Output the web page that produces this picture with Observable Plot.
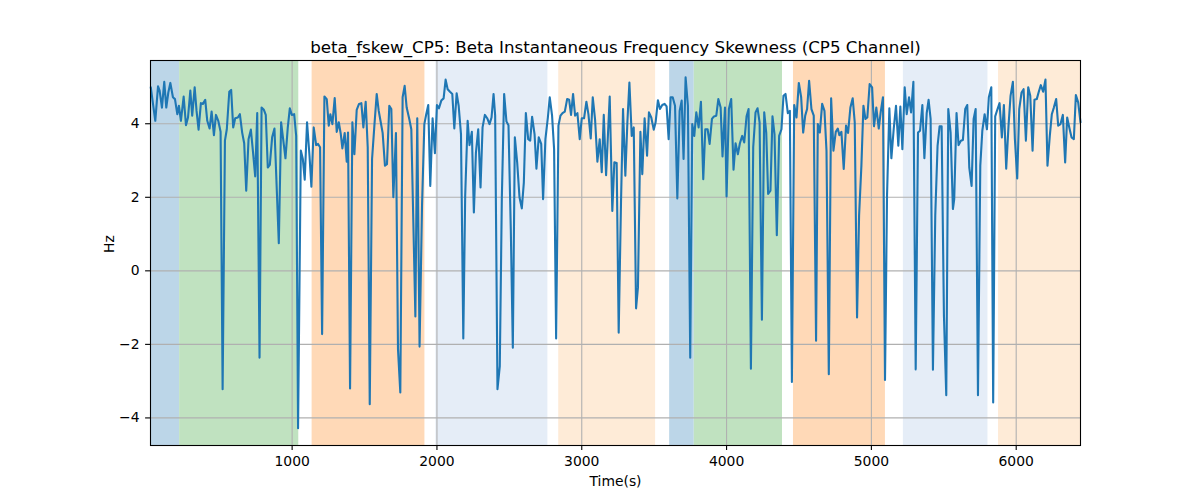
<!DOCTYPE html>
<html>
<head>
<meta charset="utf-8">
<script src="https://cdn.jsdelivr.net/npm/d3@7"></script>
<script src="https://cdn.jsdelivr.net/npm/@observablehq/plot@0.6"></script>
<style>
  html, body { margin: 0; padding: 0; background: #fff; }
  #chart svg { font-family: "DejaVu Sans", sans-serif; }
</style>
</head>
<body>
<div id="chart"></div>
<script>
// ---- data ----
const time = [
  24,55,74,85,101,117,131,145,159,177,191,207,218,232,251,267,281,297,310,327,340,354,370,384,400,414,430,444,460,474,490,506,520,536,549,566,579,593,607,625,639,655,669,683,699,715,729,745,759,775,789,805,
  818,832,846,862,878,908,924,938,954,970,984,998,1014,1028,1041,1060,1074,1087,1103,1120,1133,1149,1166,1179,1193,1207,1223,1239,1253,1264,1278,1294,1308,1322,1336,1347,1363,1377,1386,1400,1416,1430,1446,1462,1478,1492,1508,1522,1536,1552,1568,1584,
  1598,1612,1625,1641,1655,1671,1685,1699,1717,1731,1747,1763,1777,1791,1809,1823,1837,1851,1864,1880,1897,1913,1926,1940,1954,1970,1986,2000,2014,2030,2046,2060,2074,2090,2106,2120,2136,2150,2166,2182,2195,2212,2225,2241,2255,2269,2285,2301,2315,2331,2347,2363,2377,2391,
  2402,2418,2434,2448,2464,2480,2494,2510,2524,2538,2554,2570,2586,2600,2614,2630,2644,2657,2674,2687,2703,2720,2733,2749,2766,2779,2795,2809,2823,2839,2853,2867,2883,2899,2913,2926,2940,2954,2970,2986,3000,3016,3032,3046,3062,3076,3092,3108,3124,3138,3152,3168,
  3193,3211,3225,3241,3255,3271,3285,3301,3315,3329,3345,3359,3375,3388,3405,3418,3434,3451,3464,3480,3497,3510,3526,3540,3556,3572,3586,3600,3614,3628,3644,3660,3676,3690,3703,3717,3733,3749,3763,3777,3791,3807,3823,3839,3853,3869,3883,3899,3913,3929,3943,3959,3972,3989,
  4000,4016,4032,4048,4062,4078,4092,4108,4122,4138,4152,4168,4184,4200,4214,4228,4244,4260,4274,4287,4303,4317,4331,4347,4363,4379,4393,4407,4423,4437,4451,4467,4483,4499,4515,4529,4543,4556,4570,4586,4602,4618,4630,4644,4660,4676,4690,4706,4722,4738,4754,4768,
  4779,4793,4809,4825,4839,4855,4871,4885,4901,4915,4931,4945,4959,4972,4988,5005,5018,5034,5051,5064,5080,5094,5108,5124,5138,5154,5170,5186,5200,5214,5230,5244,5260,5274,5290,5306,5322,5336,5352,5366,5382,5395,5409,5425,5441,5457,5471,5485,5501,5517,5531,5547,5563,
  5572,5588,5602,5618,5632,5648,5662,5676,5692,5706,5720,5736,5752,5766,5782,5798,5811,5828,5841,5855,5871,5885,5901,5915,5931,5947,5961,5977,5991,6007,6021,6037,6051,6067,6083,6097,6113,6126,6142,6156,6170,6186,6202,6216,6232,6246,6260,6276,6290,6306,6322,6338,6352,6368,6382,6398,6412,6428,6444
];
const skew = [
  4.99,4.08,5.02,4.90,4.44,5.14,4.44,4.85,5.11,4.72,4.67,4.26,4.49,4.08,4.74,3.96,4.17,4.90,4.22,4.99,4.35,3.84,4.56,4.54,4.65,4.08,3.87,4.33,3.69,4.24,4.08,3.78,-3.22,3.54,3.85,4.87,4.92,3.90,4.15,4.17,4.26,3.76,3.47,2.18,3.58,3.84,3.27,2.57,4.29,-2.36,4.44,4.38,
  4.24,2.81,2.88,3.63,3.87,0.75,4.04,3.58,3.06,3.90,4.42,4.24,4.26,3.67,-4.28,3.27,3.04,2.48,4.04,3.13,2.29,3.90,3.42,3.45,3.36,-1.72,4.74,4.67,3.95,4.26,3.99,4.70,3.78,4.04,3.72,3.33,3.75,2.97,3.76,-3.20,4.04,3.17,4.38,4.54,4.56,3.90,4.60,3.36,-3.63,3.04,3.95,4.81,
  4.35,4.04,3.75,2.86,2.90,4.49,4.40,2.00,3.75,-2.13,-3.31,4.72,5.03,4.44,4.13,3.85,1.32,-1.24,4.15,-2.06,1.77,3.99,4.26,4.51,2.31,4.15,3.20,4.51,4.42,4.63,4.69,5.20,4.94,4.87,4.81,3.87,4.83,4.49,3.72,-1.84,2.04,4.08,3.42,3.78,1.59,3.20,3.85,2.27,3.90,4.24,4.15,3.99,4.17,4.81,
  4.22,-3.22,-2.59,1.95,4.81,4.06,3.96,1.13,-2.09,3.63,2.95,2.00,1.70,2.40,4.29,3.58,3.54,4.19,3.72,2.78,3.63,3.45,1.95,3.58,4.17,4.72,4.22,3.31,-1.84,3.95,4.22,4.29,4.33,4.67,4.65,4.24,4.81,4.22,4.29,3.58,4.15,4.15,4.60,4.26,3.60,4.72,4.11,2.97,3.58,2.68,4.24,2.60,
  4.74,1.63,2.95,2.93,-1.68,1.86,4.40,2.59,4.04,5.12,3.67,3.90,-1.02,-0.45,3.78,2.63,4.15,3.13,4.31,4.17,3.84,4.04,4.64,4.40,4.51,4.54,4.47,3.58,4.72,4.72,4.49,1.97,4.35,4.63,3.04,5.26,4.49,-2.36,3.99,3.67,4.31,3.90,4.60,2.49,3.85,3.85,3.45,4.13,4.20,4.22,4.67,4.44,3.11,4.44,
  2.02,4.40,4.67,2.75,3.47,3.17,3.47,3.67,3.49,4.20,4.40,-2.66,3.36,4.31,4.42,4.04,-1.33,4.31,3.75,2.09,2.18,4.20,3.72,0.97,3.67,3.85,4.76,4.81,4.29,4.35,-3.02,4.51,4.17,5.11,4.72,3.76,4.22,4.40,5.17,4.40,4.22,-1.90,3.99,3.76,4.54,4.35,3.27,-2.81,4.69,3.27,3.78,3.87,
  3.69,3.78,2.77,3.95,3.75,4.44,4.69,4.04,-1.27,1.50,2.86,4.49,4.13,4.17,5.08,4.99,3.93,4.44,3.87,4.31,4.72,-2.97,2.04,4.42,3.06,3.85,4.49,3.40,4.47,3.31,4.99,4.26,4.72,4.31,5.14,-2.68,3.76,3.81,4.51,3.06,4.29,4.65,4.13,-2.69,1.50,3.40,3.93,3.93,-1.22,-3.38,4.40,3.76,1.68,
  1.95,4.29,3.42,3.54,3.56,4.40,4.51,2.81,2.31,4.13,4.40,-3.38,2.86,3.81,4.26,3.85,4.72,4.99,-3.58,4.20,4.40,4.56,3.63,4.51,2.78,3.95,4.76,5.14,3.58,2.51,4.40,4.85,4.94,3.54,4.99,4.76,3.27,4.65,4.67,4.87,5.05,4.87,5.20,2.86,3.67,4.26,4.44,4.67,3.95,3.99,4.24,2.95,4.17,3.87,3.63,3.58,4.78,4.58,4.04
];

// shaded phases
const spanStart = [22, 223, 1138, 1993, 2841, 3607, 3777, 4462, 5221, 5878];
const spanEnd   = [223, 1046, 1917, 2766, 3510, 3777, 4386, 5097, 5805, 6444];
const spanPhase = ["p1","p2","p3","p4","p5","p1","p2","p3","p4","p5"];
const phaseNames = ["p1","p2","p3","p4","p5"];
const phaseColors = ["#bcd6e8","#c0e2c0","#ffd9b7","#e5edf7","#feebd7"];

const xTicks = [1000, 2000, 3000, 4000, 5000, 6000];
const yTicks = [-4, -2, 0, 2, 4];
const xDomain = [22, 6444];
const yDomain = [-4.75, 5.72];

const titleText = "beta_fskew_CP5: Beta Instantaneous Frequency Skewness (CP5 Channel)";
const xLabel = "Time(s)";
const yLabel = "Hz";

// ---- build ----
const series = time.map((t, i) => ({t, v: skew[i]}));
const spans = spanStart.map((s, i) => ({x1: s, x2: spanEnd[i], phase: spanPhase[i]}));

const chart = Plot.plot({
  width: 1200,
  height: 500,
  marginLeft: 150,
  marginRight: 120,
  marginTop: 60,
  marginBottom: 55,
  style: {fontFamily: "DejaVu Sans, sans-serif", fontSize: "13.9px", background: "#fff", color: "#000"},
  x: {domain: xDomain},
  y: {domain: yDomain},
  color: {domain: phaseNames, range: phaseColors},
  marks: [
    Plot.rect(spans, {x1: "x1", x2: "x2", fill: "phase"}),
    Plot.gridX(xTicks, {stroke: "#b0b0b0", strokeOpacity: 1, strokeWidth: 1.1}),
    Plot.gridY(yTicks, {stroke: "#b0b0b0", strokeOpacity: 1, strokeWidth: 1.1}),
    Plot.line(series, {x: "t", y: "v", stroke: "#1f77b4", strokeWidth: 2.1}),
    Plot.frame({stroke: "#000", strokeWidth: 1.1}),
    Plot.axisX(xTicks, {tickSize: 4.9, tickPadding: 6, label: null, fontSize: 13.9, strokeWidth: 1.1, tickFormat: d => String(d)}),
    Plot.axisY(yTicks, {tickSize: 4.9, tickPadding: 6, label: null, fontSize: 13.9, strokeWidth: 1.1}),
    Plot.text([titleText], {frameAnchor: "top", lineAnchor: "bottom", dy: -8, fontSize: 16.7, fill: "#000"}),
    Plot.text([xLabel], {frameAnchor: "bottom", lineAnchor: "bottom", dy: 40, fontSize: 13.9, fill: "#000"}),
    Plot.text([yLabel], {frameAnchor: "left", lineAnchor: "bottom", dx: -37, rotate: -90, fontSize: 13.9, fill: "#000"})
  ]
});
document.getElementById("chart").appendChild(chart);
</script>
</body>
</html>
